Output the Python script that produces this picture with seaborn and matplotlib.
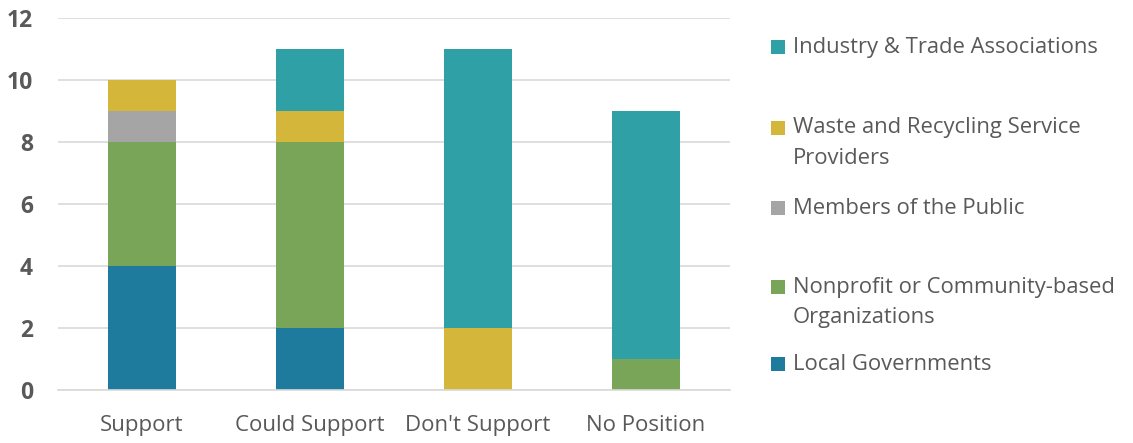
import matplotlib
matplotlib.use("Agg")
import matplotlib.pyplot as plt
import seaborn as sns
import numpy as np
import pandas as pd
from matplotlib.patches import Rectangle

categories = ["Support", "Could Support", "Don't Support", "No Position"]
local_gov = [4, 2, 0, 0]
nonprofit = [4, 6, 0, 1]
public = [1, 0, 0, 0]
waste = [1, 1, 2, 0]
industry = [0, 2, 9, 8]

series_values = [local_gov, nonprofit, public, waste, industry]
colors = ["#1F7B9E", "#78A558", "#A5A5A5", "#D4B63A", "#2FA0A5"]

sns.set_theme(style="white")
plt.rcParams['font.family'] = ['Open Sans', 'DejaVu Sans']

fig = plt.figure(figsize=(11.33, 4.43), dpi=100)
ax = fig.add_axes([58/1133, 1-390/443, (730-58)/1133, (390-18)/443])

cum = np.cumsum(np.array(series_values, dtype=float), axis=0)
# draw from top layer down so lower layers overwrite
for i in range(len(series_values)-1, -1, -1):
    df = pd.DataFrame({"cat": categories, "val": cum[i]})
    sns.barplot(data=df, x="cat", y="val", color=colors[i], width=0.405,
                saturation=1, ax=ax, order=categories, linewidth=0, zorder=2)

ax.set_xlim(-0.5, 3.5)
ax.set_ylim(0, 12)
ax.set_yticks(range(0, 13, 2))
ax.set_xlabel("")
ax.set_ylabel("")
ax.grid(axis="y", color="#D9D9D9", linewidth=1.2, zorder=0)
ax.set_axisbelow(True)
for s in ["left", "right", "top"]:
    ax.spines[s].set_visible(False)
ax.spines["bottom"].set_color("#D9D9D9")
ax.spines["bottom"].set_linewidth(1.2)
ax.spines["bottom"].set_zorder(3)

ax.tick_params(axis="y", length=0, pad=18, labelsize=16.5, labelcolor="#595959")
for lbl in ax.get_yticklabels():
    lbl.set_fontweight("bold")
ax.tick_params(axis="x", which="major", length=0, pad=18, labelsize=16, labelcolor="#595959")
ax.set_xticks(np.arange(-0.5, 4.0, 1.0), minor=True)
ax.tick_params(axis="x", which="minor", length=6, width=1.2, color="#D9D9D9", direction="out")

# legend drawn manually
legend_items = [
    (4, ["Industry & Trade Associations"], 47),
    (3, ["Waste and Recycling Service", "Providers"], 128),
    (2, ["Members of the Public"], 208),
    (1, ["Nonprofit or Community-based", "Organizations"], 287),
    (0, ["Local Governments"], 364),
]
for idx, lines, yc in legend_items:
    fig.patches.append(Rectangle((771/1133, 1-(yc+7)/443), 14/1133, 14/443,
                                 transform=fig.transFigure, facecolor=colors[idx],
                                 edgecolor="none"))
    for j, line in enumerate(lines):
        fig.text(793/1133, 1-(yc+j*30)/443, line, fontsize=15.8, color="#595959",
                 va="center", ha="left")

fig.savefig("out.png", dpi=100)
